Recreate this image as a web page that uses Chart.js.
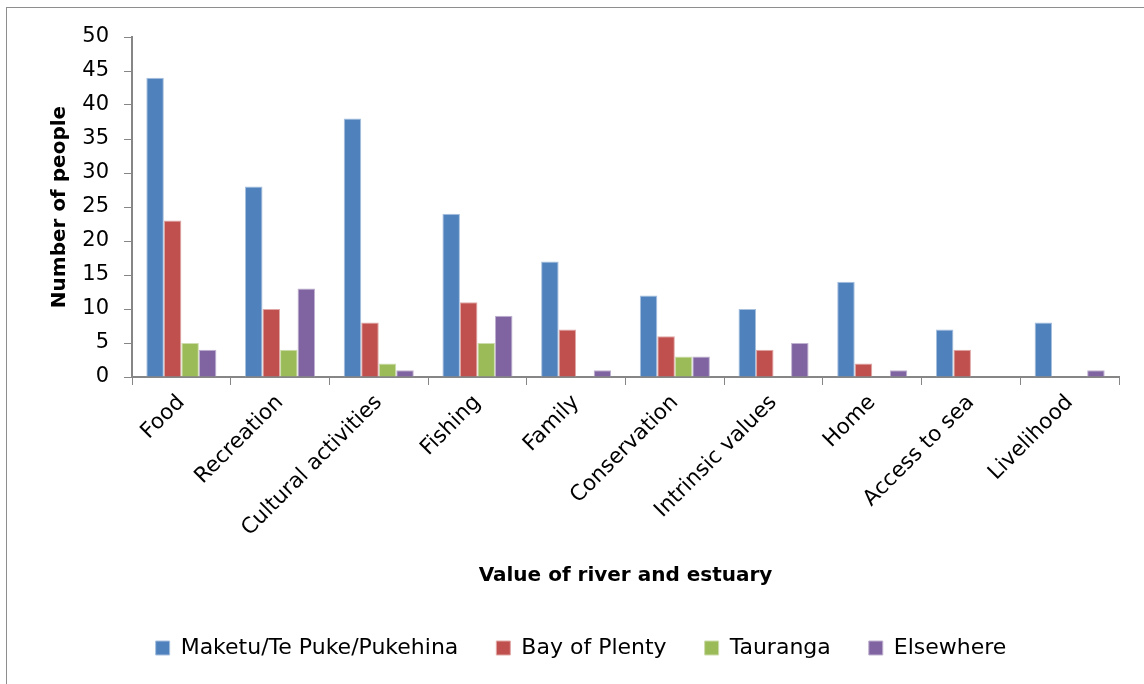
<!DOCTYPE html>
<html>
<head>
<meta charset="utf-8">
<script src="https://cdn.jsdelivr.net/npm/chart.js@4.4.1/dist/chart.umd.min.js"></script>
<style>
  html, body { margin: 0; padding: 0; background: #fff; overflow: hidden; }
  .frame { position: absolute; left: 6px; top: 7px; width: 1200px; height: 800px; border: 1.5px solid #8e8e8e; }
  #myChart { position: absolute; left: 0; top: 0; }
</style>
</head>
<body>
<div class="frame"></div>
<canvas id="myChart" width="1144" height="684"></canvas>
<script>
const categories = ['Food', 'Recreation', 'Cultural activities', 'Fishing', 'Family',
  'Conservation', 'Intrinsic values', 'Home', 'Access to sea', 'Livelihood'];
const seriesNames = ['Maketu/Te Puke/Pukehina', 'Bay of Plenty', 'Tauranga', 'Elsewhere'];
const maketu = [44, 28, 38, 24, 17, 12, 10, 14, 7, 8];
const bayOfPlenty = [23, 10, 8, 11, 7, 6, 4, 2, 4, 0];
const tauranga = [5, 4, 2, 5, 0, 3, 0, 0, 0, 0];
const elsewhere = [4, 13, 1, 9, 1, 3, 5, 1, 0, 1];
const yMin = 0, yMax = 50, yStep = 5;

const colors = ['#4f81bd', '#c0504d', '#9bbb59', '#8064a2'];
const edges = ['#a7c0de', '#dfa8a6', '#cddcac', '#bfb1d0'];
const font = '"DejaVu Sans", sans-serif';
const axisGrey = '#868686';

const chart = new Chart(document.getElementById('myChart'), {
  type: 'bar',
  data: {
    labels: categories,
    datasets: [maketu, bayOfPlenty, tauranga, elsewhere].map((d, i) => ({
      label: seriesNames[i],
      data: d,
      backgroundColor: colors[i],
      borderColor: edges[i],
      borderWidth: 1,
      categoryPercentage: 0.71,
      barPercentage: 1
    }))
  },
  options: {
    responsive: false,
    animation: false,
    layout: { padding: { top: 37, left: 43, right: 25, bottom: 15 } },
    plugins: {
      tooltip: { enabled: false },
      legend: {
        position: 'bottom',
        labels: {
          boxWidth: 14,
          boxHeight: 14,
          padding: 38,
          color: '#000',
          font: { family: font, size: 22 }
        }
      }
    },
    scales: {
      x: {
        afterFit: (scale) => { scale.height = 222; },
        grid: { display: true, drawOnChartArea: false, drawTicks: true, tickLength: 8, color: axisGrey, offset: true },
        border: { color: axisGrey, width: 2 },
        ticks: {
          color: '#000',
          font: { family: font, size: 21.5 },
          minRotation: 45,
          maxRotation: 45,
          autoSkip: false,
          padding: 5
        },
        title: {
          display: true,
          text: 'Value of river and estuary',
          color: '#000',
          font: { family: font, size: 20, weight: 'bold' },
          padding: { top: 0, bottom: 11 }
        }
      },
      y: {
        min: yMin,
        max: yMax,
        afterFit: (scale) => { scale.width = 89; },
        grid: { display: true, drawOnChartArea: false, drawTicks: true, tickLength: 8, color: axisGrey },
        border: { color: axisGrey, width: 2 },
        ticks: {
          stepSize: yStep,
          color: '#000',
          font: { family: font, size: 21 },
          padding: 15
        },
        title: {
          display: true,
          text: 'Number of people',
          color: '#000',
          font: { family: font, size: 20, weight: 'bold' },
          padding: { top: 5, bottom: 0 }
        }
      }
    }
  }
});
</script>
</body>
</html>
